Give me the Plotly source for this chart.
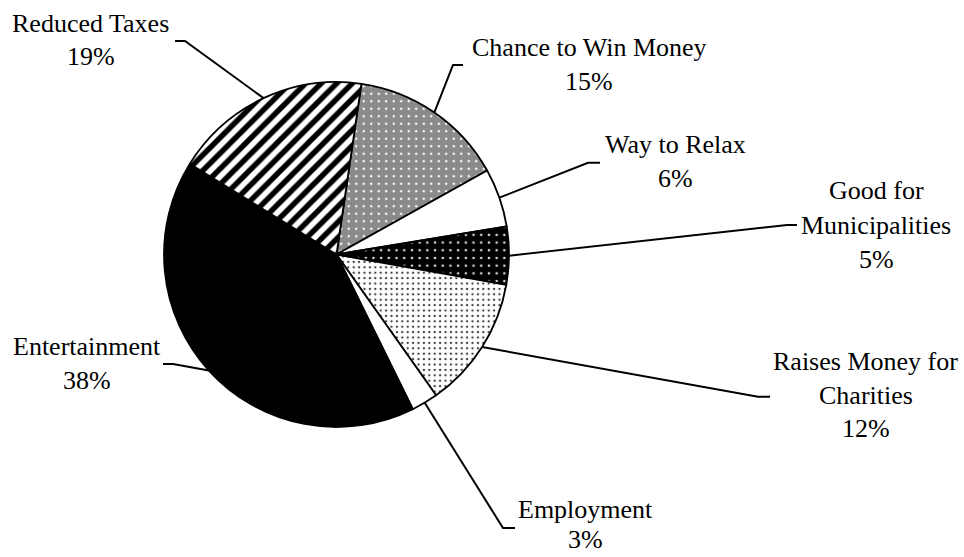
import math
import plotly.graph_objects as go

# ---------------- data (clockwise from the first slice) ----------------
categories = ["Chance to Win Money", "Way to Relax", "Good for Municipalities",
              "Raises Money for Charities", "Employment", "Entertainment", "Reduced Taxes"]
# slice shares as drawn in the picture
shares = [14.6, 5.5, 5.4, 12.4, 2.5, 41.1, 18.5]
# percentage labels as printed in the picture
pct_labels = ["15%", "6%", "5%", "12%", "3%", "38%", "19%"]
# category label text split into the lines used in the picture
label_lines = [["Chance to Win Money"], ["Way to Relax"], ["Good for", "Municipalities"],
               ["Raises Money for", "Charities"], ["Employment"], ["Entertainment"], ["Reduced Taxes"]]

# ---------------- layout / style ----------------
W, H = 964, 557
CX, CY, R = 336.5, 254.5, 172.5          # pie centre / radius in px
ROT = 8.3                                # first slice starts 8.3 deg clockwise of 12 o'clock
FONT = "Liberation Serif"
FS = 26
LINE_W = 2

bg = ["#8a8a8a", "white", "black", "white", "white", "black", "white"]
pat_shape = [".", "", ".", ".", "", "", "/"]
pat_fg = ["white", "white", "#e0e0e0", "#404040", "white", "black", "black"]
pat_size = [7.5, 8, 7.7, 5.4, 8, 8, 11]
pat_sol = [0.09, 0.3, 0.09, 0.15, 0.3, 0.3, 0.5]

# label placement (px): text centre x, first line centre y, line step,
# elbow outer x, elbow inner x, elbow y
placement = {
    "Chance to Win Money": (589, 48.5, 34, 463, 453, 65),
    "Way to Relax": (675, 145.5, 33.5, 600, 588, 162.7),
    "Good for Municipalities": (876, 192, 34, 797, 787, 225),
    "Raises Money for Charities": (865.5, 362.5, 33.5, 770, 758, 396.7),
    "Employment": (585, 510, 30, 515, 503, 528),
    "Entertainment": (86.7, 347, 34, 163, 173, 364),
    "Reduced Taxes": (90.5, 24.3, 33.5, 175, 185, 41),
}

def px2paper(x, y):
    return x / W, 1 - y / H

d0 = px2paper(CX - R, CY + R)
d1 = px2paper(CX + R, CY - R)

fig = go.Figure(go.Pie(
    labels=categories,
    values=shares,
    sort=False,
    direction="clockwise",
    rotation=ROT,
    textinfo="none",
    hoverinfo="label+percent",
    marker=dict(
        colors=bg,
        line=dict(color="black", width=1.8),
        pattern=dict(shape=pat_shape, fgcolor=pat_fg, bgcolor=bg,
                     size=pat_size, solidity=pat_sol, fillmode="replace"),
    ),
    domain=dict(x=[d0[0], d1[0]], y=[d0[1], d1[1]]),
    showlegend=False,
))

total = sum(shares)
cum = 0.0
shapes, annotations = [], []
for cat, v, pct, lines in zip(categories, shares, pct_labels, label_lines):
    mid = math.radians(ROT + 360 * (cum + v / 2) / total)
    cum += v
    ex, ey = CX + R * math.sin(mid), CY - R * math.cos(mid)
    tx, ty, step, ox, ix, ly = placement[cat]
    p0 = px2paper(ex, ey)
    p1 = px2paper(ix, ly)
    p2 = px2paper(ox, ly)
    shapes.append(dict(
        type="path", xref="paper", yref="paper",
        path=f"M{p0[0]},{p0[1]} L{p1[0]},{p1[1]} L{p2[0]},{p2[1]}",
        line=dict(color="black", width=LINE_W),
    ))
    for k, line in enumerate(lines + [pct]):
        ax, ay = px2paper(tx, ty + k * step - 1)
        annotations.append(dict(
            x=ax, y=ay, xref="paper", yref="paper", xanchor="center", yanchor="middle",
            text=line, showarrow=False, align="center",
            font=dict(family=FONT, size=FS, color="black"),
        ))

fig.update_layout(
    width=W, height=H,
    margin=dict(l=0, r=0, t=0, b=0),
    paper_bgcolor="white", plot_bgcolor="white",
    shapes=shapes, annotations=annotations,
)

# remove the browser's default page margin so the figure fills the window exactly
fig.write_html("out.html",
               config={"displayModeBar": False},
               post_script="document.body.style.margin='0px';document.body.style.overflow='hidden';")
